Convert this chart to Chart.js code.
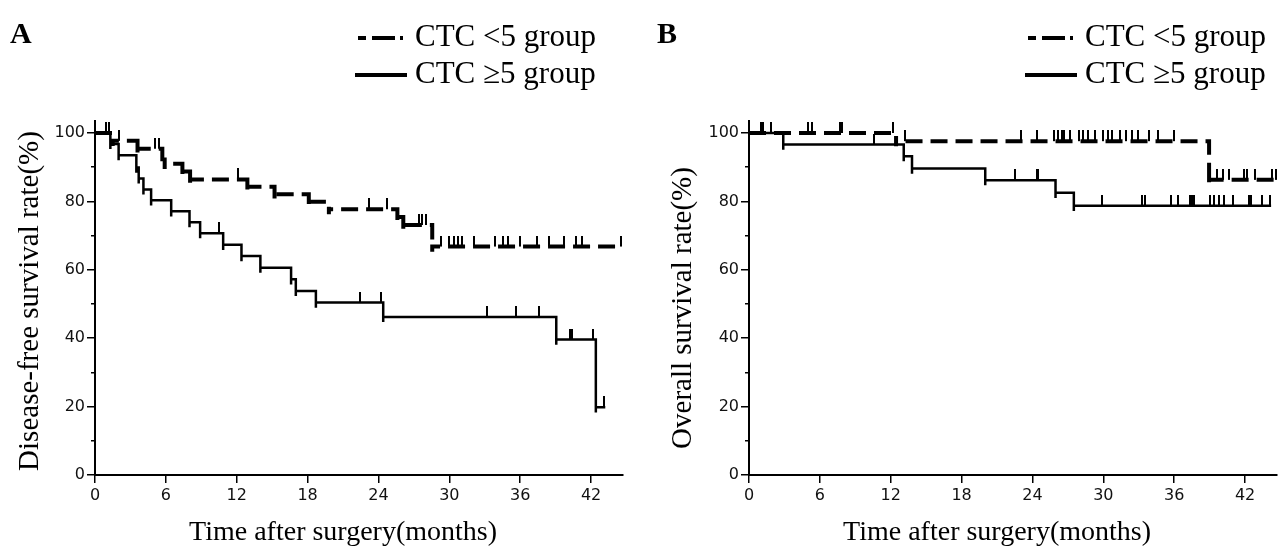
<!DOCTYPE html>
<html>
<head>
<meta charset="utf-8">
<script src="https://cdn.jsdelivr.net/npm/chart.js@4.4.1/dist/chart.umd.min.js"></script>
<style>
  html, body { margin: 0; background: #fff; }
  #wrap { position: relative; width: 1288px; height: 551px; }
  canvas { position: absolute; top: 0; }
</style>
</head>
<body>
<div id="wrap">
  <canvas id="panelA" width="644" height="551" style="left:0"></canvas>
  <canvas id="panelB" width="644" height="551" style="left:644px"></canvas>
</div>
<script>
// Two Kaplan-Meier panels (A: disease-free, B: overall survival), CTC <5 vs ≥5.
// Each curve = event times + survival after each event, censor times, end of follow-up.

const X_TICKS = [0, 6, 12, 18, 24, 30, 36, 42];
const Y_TICKS = [0, 20, 40, 60, 80, 100];
const Y_MINOR = [10, 30, 50, 70, 90];
const X_MAX = 44.7;
const Y_MAX = 103.5;

const LEGEND_LOW = "CTC <5 group";
const LEGEND_HIGH = "CTC \u22655 group";
const X_TITLE = "Time after surgery(months)";

// ---------- panel A: disease-free survival ----------
const A_LOW_EVENT_T = [1.5, 3.6, 5.7, 5.9, 7.4, 8.05, 12.9, 15.2, 18.1, 19.8, 25.6, 26.1, 28.55];
const A_LOW_EVENT_S = [97.7, 95.4, 93.2, 91.0, 88.7, 86.4, 84.3, 82.1, 79.9, 77.7, 75.4, 73.1, 66.8];
const A_LOW_CENSOR = [0.95, 1.2, 2.0, 5.1, 5.4, 12.1, 23.2, 24.75, 27.4, 27.7, 28.0, 29.3, 30.0, 30.4,
  30.7, 31.1, 32.1, 33.9, 34.5, 35.0, 36.0, 37.4, 38.4, 39.7, 40.7, 41.2, 44.5];
const A_LOW_END = 44.6;

const A_HIGH_EVENT_T = [1.3, 2.0, 3.5, 3.7, 4.1, 4.75, 6.45, 8.0, 8.9, 10.85, 12.4, 14.0, 16.6, 17.0,
  18.7, 24.4, 39.05, 42.4];
const A_HIGH_EVENT_S = [96.8, 93.5, 89.9, 86.7, 83.5, 80.3, 77.1, 73.9, 70.7, 67.3, 64.0, 60.6, 57.2,
  53.8, 50.4, 46.2, 39.6, 19.8];
const A_HIGH_CENSOR = [10.5, 22.4, 24.2, 33.2, 35.6, 37.6, 40.25, 40.4, 42.2, 43.1];
const A_HIGH_END = 43.2;

// ---------- panel B: overall survival ----------
const B_LOW_EVENT_T = [12.45, 38.95];
const B_LOW_EVENT_S = [97.6, 86.3];
const B_LOW_CENSOR = [1.0, 1.2, 1.9, 5.0, 5.3, 7.7, 7.9, 12.2, 13.2, 23.0, 24.4, 25.8, 26.2, 26.5, 26.7,
  27.2, 27.9, 28.3, 28.7, 29.3, 30.0, 30.4, 30.7, 31.4, 31.9, 32.4, 32.9, 33.9, 34.6, 36.0, 39.6, 40.1,
  40.6, 41.9, 42.2, 42.8, 44.3, 44.6];
const B_LOW_END = 44.7;

const B_HIGH_EVENT_T = [2.9, 13.1, 13.8, 20.0, 25.95, 27.5];
const B_HIGH_EVENT_S = [96.6, 93.2, 89.6, 86.2, 82.5, 78.7];
const B_HIGH_CENSOR = [10.6, 22.5, 24.4, 24.5, 29.9, 33.3, 33.5, 35.7, 36.3, 37.3, 37.5, 37.7, 39.0,
  39.4, 39.8, 40.2, 41.0, 42.3, 42.5, 43.4, 44.1];
const B_HIGH_END = 44.2;

// ---------- style ----------
const INK = "#000";
const SERIF = "'Liberation Serif', 'Times New Roman', serif";
const SANS = "'DejaVu Sans', Verdana, sans-serif";
const DASH = [17, 8];
const DIP = 1.5; // each drop overshoots the new level a little, as in the original

// ---------- helpers ----------
function stepPath(times, surv, end) {
  const pts = [{ x: 0, y: 100 }];
  let prev = 100;
  times.forEach((t, i) => {
    pts.push({ x: t, y: prev }, { x: t, y: surv[i] - DIP }, { x: t, y: surv[i] });
    prev = surv[i];
  });
  pts.push({ x: end, y: prev });
  return pts;
}

function survAt(times, surv, t) {
  let s = 100;
  times.forEach((tt, i) => { if (tt <= t) s = surv[i]; });
  return s;
}

function censorPts(times, surv, cens) {
  return cens.map((t) => ({ x: t, y: survAt(times, surv, t) }));
}

// censor mark: short vertical stroke sitting on top of the curve
function tickMark(w, h) {
  const c = document.createElement("canvas");
  c.width = w;
  c.height = h * 2;
  const g = c.getContext("2d");
  g.fillStyle = INK;
  g.fillRect(0, 0, w, h);
  return c;
}
const MARK = tickMark(2, 11);

function curve(times, surv, end, dashed) {
  return {
    type: "line",
    data: stepPath(times, surv, end),
    borderColor: INK,
    borderWidth: dashed ? 4 : 2.5,
    borderDash: dashed ? DASH : [],
    borderCapStyle: "butt",
    borderJoinStyle: "miter",
    pointRadius: 0,
    tension: 0,
    clip: false,
  };
}

function marks(times, surv, cens) {
  return {
    type: "scatter",
    data: censorPts(times, surv, cens),
    pointStyle: MARK,
    pointRadius: 6,
    pointHoverRadius: 6,
    clip: false,
  };
}

// ---------- decorations: panel letter, legend, axis titles ----------
const deco = {
  id: "deco",
  afterDraw(chart, args, o) {
    const { ctx, chartArea, scales } = chart;
    ctx.save();
    ctx.fillStyle = INK;
    ctx.strokeStyle = INK;

    ctx.font = `bold 30px ${SERIF}`;
    ctx.textAlign = "left";
    ctx.textBaseline = "alphabetic";
    ctx.fillText(o.letter, o.letterX, 43);

    // legend rows
    ctx.lineWidth = 4;
    ctx.setLineDash([8, 6, 23, 5, 3, 80]);
    ctx.beginPath();
    ctx.moveTo(o.legendX + 3, 38);
    ctx.lineTo(o.legendX + 48, 38);
    ctx.stroke();
    ctx.setLineDash([]);
    ctx.beginPath();
    ctx.moveTo(o.legendX, 75);
    ctx.lineTo(o.legendX + 52, 75);
    ctx.stroke();

    ctx.font = `31px ${SERIF}`;
    ctx.textBaseline = "middle";
    ctx.fillText(LEGEND_LOW, o.legendX + 60, 38);
    ctx.fillText(LEGEND_HIGH, o.legendX + 60, 75);

    // axis titles
    ctx.font = `28px ${SERIF}`;
    ctx.textAlign = "center";
    ctx.fillText(X_TITLE, scales.x.getPixelForValue(21), 533);
    ctx.font = `29px ${SERIF}`;
    ctx.translate(o.yTitleX, (chartArea.top + chartArea.bottom) / 2 + o.yTitleShift);
    ctx.rotate(-Math.PI / 2);
    ctx.fillText(o.yTitle, 0, 0);
    ctx.restore();
  },
};

function makePanel(id, cfg) {
  const tickFont = { family: SANS, size: 16 };
  return new Chart(document.getElementById(id), {
    data: {
      datasets: [
        curve(cfg.lowT, cfg.lowS, cfg.lowEnd, true),
        marks(cfg.lowT, cfg.lowS, cfg.lowCens),
        curve(cfg.highT, cfg.highS, cfg.highEnd, false),
        marks(cfg.highT, cfg.highS, cfg.highCens),
      ],
    },
    options: {
      responsive: false,
      animation: false,
      events: [],
      layout: { padding: { top: 121, right: cfg.right, bottom: 0, left: 0 } },
      scales: {
        x: {
          type: "linear",
          min: 0,
          max: X_MAX,
          afterBuildTicks: (s) => { s.ticks = X_TICKS.map((v) => ({ value: v })); },
          afterFit: (s) => { s.height = 76; },
          grid: { drawOnChartArea: false, tickLength: 8, color: INK, lineWidth: 1.5 },
          border: { color: INK, width: 2 },
          ticks: { font: tickFont, color: "#111", padding: 3, maxRotation: 0, autoSkip: false },
        },
        y: {
          type: "linear",
          position: "left",
          weight: 1,
          min: 0,
          max: Y_MAX,
          afterBuildTicks: (s) => { s.ticks = Y_TICKS.map((v) => ({ value: v })); },
          afterFit: (s) => { s.width = cfg.left; },
          grid: { drawOnChartArea: false, tickLength: 8, color: INK, lineWidth: 1.5 },
          border: { color: INK, width: 2 },
          ticks: { font: tickFont, color: "#111", padding: 2 },
        },
        yMinor: {
          type: "linear",
          position: "left",
          weight: 0,
          min: 0,
          max: Y_MAX,
          afterBuildTicks: (s) => { s.ticks = Y_MINOR.map((v) => ({ value: v })); },
          afterFit: (s) => { s.width = 0; },
          grid: { drawOnChartArea: false, tickLength: 4, color: INK, lineWidth: 1.5 },
          border: { display: false },
          ticks: { display: false },
        },
      },
      plugins: {
        legend: { display: false },
        tooltip: { enabled: false },
        deco: cfg.deco,
      },
    },
    plugins: [deco],
  });
}

makePanel("panelA", {
  lowT: A_LOW_EVENT_T, lowS: A_LOW_EVENT_S, lowCens: A_LOW_CENSOR, lowEnd: A_LOW_END,
  highT: A_HIGH_EVENT_T, highS: A_HIGH_EVENT_S, highCens: A_HIGH_CENSOR, highEnd: A_HIGH_END,
  left: 95, right: 21,
  deco: { letter: "A", letterX: 10, legendX: 355, yTitleX: 30, yTitleShift: 3,
    yTitle: "Disease-free survival rate(%)" },
});

makePanel("panelB", {
  lowT: B_LOW_EVENT_T, lowS: B_LOW_EVENT_S, lowCens: B_LOW_CENSOR, lowEnd: B_LOW_END,
  highT: B_HIGH_EVENT_T, highS: B_HIGH_EVENT_S, highCens: B_HIGH_CENSOR, highEnd: B_HIGH_END,
  left: 105, right: 11,
  deco: { letter: "B", letterX: 13, legendX: 381, yTitleX: 39, yTitleShift: 10,
    yTitle: "Overall survival rate(%)" },
});
</script>
</body>
</html>
